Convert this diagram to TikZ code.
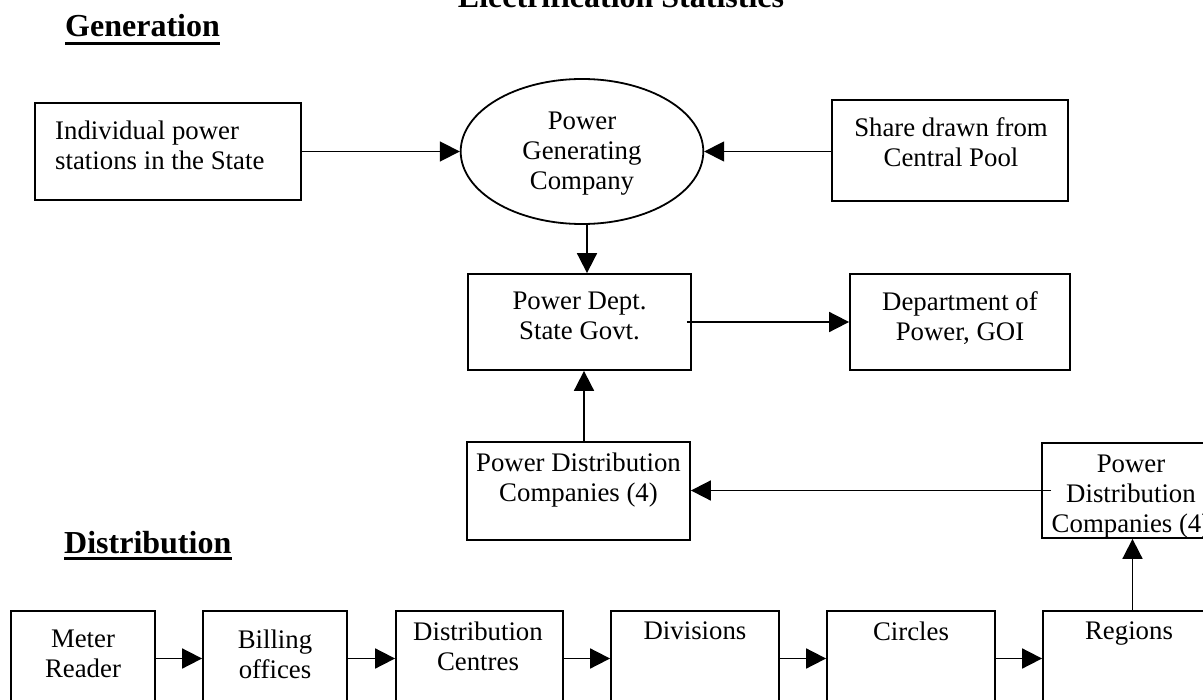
\documentclass[tikz,border=0pt]{standalone}
\usepackage{fontspec}
\setmainfont{Liberation Serif}
\usetikzlibrary{arrows.meta,shapes.geometric,calc}

\newcommand\bodysize{\fontsize{26.8bp}{30bp}\selectfont}
\newcommand\headsize{\fontsize{32bp}{36bp}\selectfont\bfseries}

\tikzset{
  box/.style={draw, line width=1.8bp, rectangle, inner sep=0pt},
  oval/.style={draw, line width=1.8bp, ellipse, inner sep=0pt},
  txt/.style={font=\bodysize, align=center, inner sep=0pt, anchor=north},
  head/.style={font=\headsize, inner sep=0pt},
  arr/.style={line width=1.8bp, -{Triangle[length=20bp,width=20bp]}},
  uline/.style={line width=3bp},
}

\begin{document}
\begin{tikzpicture}[x=1bp, y=-1bp]
\useasboundingbox (0,0) rectangle (1203,700);

% headings
\node[head, anchor=base] (title) at (621,8) {Electrification Statistics};
\node[head, anchor=base west] (gen) at (65,37) {Generation};
\node[head, anchor=base west] (dist) at (64,553) {Distribution};
\draw[uline] ([yshift=-6.3bp]gen.base west) -- ([yshift=-6.3bp]gen.base east);
\draw[uline] ([yshift=-5.5bp]dist.base west) -- ([yshift=-5.5bp]dist.base east);

% generation side
\node[box, minimum width=266bp, minimum height=97bp] (ind) at (168,151.5) {};
\node[txt, anchor=north west, align=left] (indT) at (55,121.2) {Individual power\\stations in the State};

\node[oval, minimum width=242.6bp, minimum height=145bp] (ell) at (582,151.5) {};
\node[txt] (ellT) at (582,111.5) {Power\\Generating\\Company};

\node[box, minimum width=236bp, minimum height=101bp] (share) at (950,150.3) {};
\node[txt] (shareT) at (951,117) {Share drawn from\\Central Pool};

\node[box, minimum width=223bp, minimum height=96bp] (pdept) at (579.5,322) {};
\node[txt] (pdeptT) at (579.5,291.5) {Power Dept.\\State Govt.};

\node[box, minimum width=220bp, minimum height=96bp] (dop) at (960,322) {};
\node[txt] (dopT) at (960,291.5) {Department of\\Power, GOI};

\node[box, minimum width=223bp, minimum height=98bp] (pdcL) at (578.5,491) {};
\node[txt] (pdcLT) at (578.5,452.5) {Power Distribution\\Companies (4)};

\node[box, minimum width=182bp, minimum height=95bp] (pdcR) at (1133,490.5) {};
\node[txt] (pdcRT) at (1131,455) {Power\\Distribution\\Companies (4)};

% distribution chain
\node[box, minimum width=144bp, minimum height=95bp] (meter) at (83,658.5) {};
\node[txt] (meterT) at (83,630) {Meter\\Reader};

\node[box, minimum width=144bp, minimum height=95bp] (bill) at (275,658.5) {};
\node[txt] (billT) at (275,629.5) {Billing\\offices};

\node[box, minimum width=167bp, minimum height=95bp] (dc) at (479.5,658.5) {};
\node[txt] (dcT) at (478,621.5) {Distribution\\Centres};

\node[box, minimum width=168bp, minimum height=95bp] (div) at (695,658.5) {};
\node[txt] (divT) at (695,621.5) {Divisions};

\node[box, minimum width=168bp, minimum height=95bp] (circ) at (911,658.5) {};
\node[txt] (circT) at (911,621.5) {Circles};

\node[box, minimum width=179bp, minimum height=95bp] (reg) at (1132.5,658.5) {};
\node[txt] (regT) at (1129,621.5) {Regions};

% connectors
\draw[arr] (ind.east) -- (ell.west);
\draw[arr] (share.west |- ell.east) -- (ell.east);
\draw[arr] ([xshift=5bp]ell.south) -- ([xshift=5bp]ell.south |- pdept.north);
\draw[arr] ([xshift=-5bp]pdept.east) -- (dop.west);
\draw[arr] ([xshift=5.5bp]pdcL.north) -- ([xshift=5.5bp]pdcL.north |- pdept.south);
\draw[arr] ([xshift=10bp]pdcR.west) -- (pdcL.east |- pdcR.west);
\draw[arr] (reg.north) -- (reg.north |- pdcR.south);

\draw[arr] (meter.east) -- (bill.west);
\draw[arr] (bill.east) -- (dc.west);
\draw[arr] (dc.east) -- (div.west);
\draw[arr] (div.east) -- (circ.west);
\draw[arr] (circ.east) -- (reg.west);
\end{tikzpicture}
\end{document}
